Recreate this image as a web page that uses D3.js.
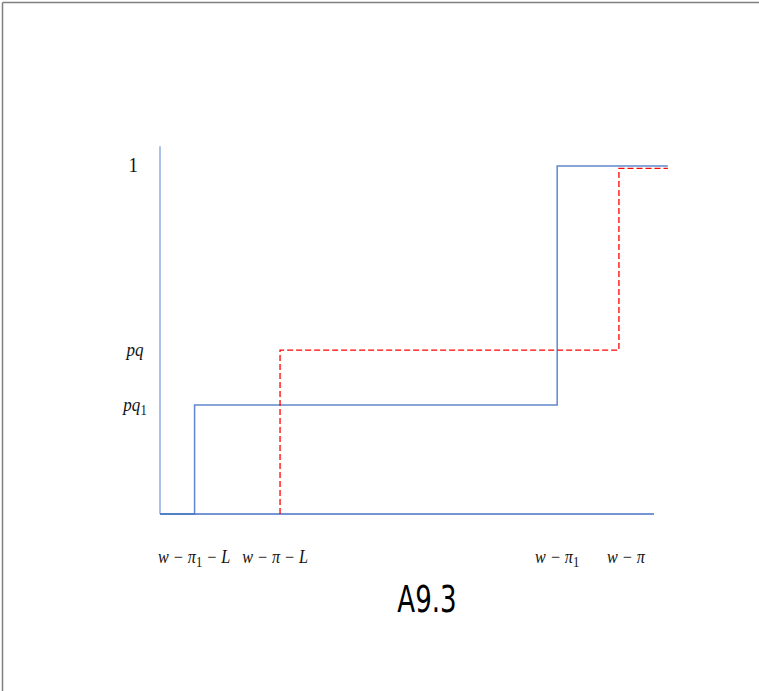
<!DOCTYPE html>
<html>
<head>
<meta charset="utf-8">
<script src="https://cdn.jsdelivr.net/npm/d3@7"></script>
<style>
  body { margin: 0; background: #fff; }
</style>
</head>
<body>
<div id="chart"></div>
<script>
// step points (x in abstract units, y as probability)
var blueSteps = [[0, 0], [7, 0], [7, 0.313], [80.4, 0.313], [80.4, 1], [102.8, 1]];
var redSteps = [[24.3, 0], [24.3, 0.471], [92.9, 0.471], [92.9, 0.993], [102.8, 0.993]];

var yTicks = [1, 0.471, 0.313];
var yTickLabels = [["1", ""], ["pq", ""], ["pq", "1"]];
var xTicks = [6.9, 23.3, 80.4, 94.3];
var xTickLabels = [["w − π", "1", " − L"], ["w − π − L", "", ""], ["w − π", "1", ""], ["w − π", "", ""]];

var width = 759, height = 691;

var svg = d3.select("#chart").append("svg")
    .attr("width", width)
    .attr("height", height);

// outer frame (only top and left visible)
svg.append("line").attr("x1", 2.5).attr("y1", 2.5).attr("x2", width).attr("y2", 2.5)
    .attr("stroke", "#7f7f7f").attr("stroke-width", 1.5);
svg.append("line").attr("x1", 2.5).attr("y1", 2.5).attr("x2", 2.5).attr("y2", height)
    .attr("stroke", "#7f7f7f").attr("stroke-width", 1.5);

var x = d3.scaleLinear().domain([0, 100]).range([160, 654]);
var y = d3.scaleLinear().domain([0, 1]).range([514, 166]);

// axes
svg.append("line")
    .attr("x1", x(0)).attr("x2", x(0))
    .attr("y1", y(0)).attr("y2", y(1.057))
    .attr("stroke", "#a9c0e8").attr("stroke-width", 2);
svg.append("line")
    .attr("x1", x(0)).attr("x2", x(100))
    .attr("y1", y(0)).attr("y2", y(0))
    .attr("stroke", "#4472c4").attr("stroke-width", 1.5);

var line = d3.line().x(function(d) { return x(d[0]) }).y(function(d) { return y(d[1]) });

svg.append("path")
    .attr("d", line(blueSteps))
    .attr("fill", "none")
    .attr("stroke", "#4472c4")
    .attr("stroke-opacity", 0.85)
    .attr("stroke-width", 1.5);

svg.append("path")
    .attr("d", line(redSteps))
    .attr("fill", "none")
    .attr("stroke", "#ff0000")
    .attr("stroke-width", 1.3)
    .attr("stroke-dasharray", "6,3");

var mathFont = "'Liberation Serif', 'DejaVu Serif', serif";

// y labels
yTicks.forEach(function(v, i) {
    var parts = yTickLabels[i];
    var g = svg.append("g")
        .attr("transform", "translate(135," + (y(v) + 6) + ") scale(0.9,1)");
    var t = g.append("text")
        .attr("text-anchor", "middle")
        .attr("font-family", mathFont)
        .attr("font-size", 19)
        .attr("fill", "#111");
    if (parts[0] == "1") {
        t.attr("x", -2).attr("y", 0).attr("font-size", 21).text("1");
        return;
    }
    t.append("tspan").attr("font-style", "italic").text(parts[0]);
    if (parts[1]) t.append("tspan").attr("font-size", 14).attr("dy", 4).text(parts[1]);
});

// x labels
xTicks.forEach(function(v, i) {
    var parts = xTickLabels[i];
    var g = svg.append("g")
        .attr("transform", "translate(" + x(v) + ",563) scale(0.9,1)");
    var t = g.append("text")
        .attr("text-anchor", "middle")
        .attr("font-family", mathFont)
        .attr("font-size", 18)
        .attr("fill", "#111");
    t.append("tspan").attr("font-style", "italic").text(parts[0]);
    if (parts[1]) {
        t.append("tspan").attr("font-size", 14).attr("dy", 4).text(parts[1]);
        if (parts[2]) t.append("tspan").attr("dy", -4).attr("font-style", "italic").text(parts[2]);
    }
});

// title
svg.append("g")
    .attr("transform", "translate(427,612) scale(1,1.3)")
    .append("text")
    .attr("text-anchor", "middle")
    .attr("font-family", "'Liberation Sans Narrow', 'DejaVu Sans Condensed', sans-serif")
    .attr("font-size", 29)
    .attr("fill", "#000")
    .text("A9.3");
</script>
</body>
</html>
